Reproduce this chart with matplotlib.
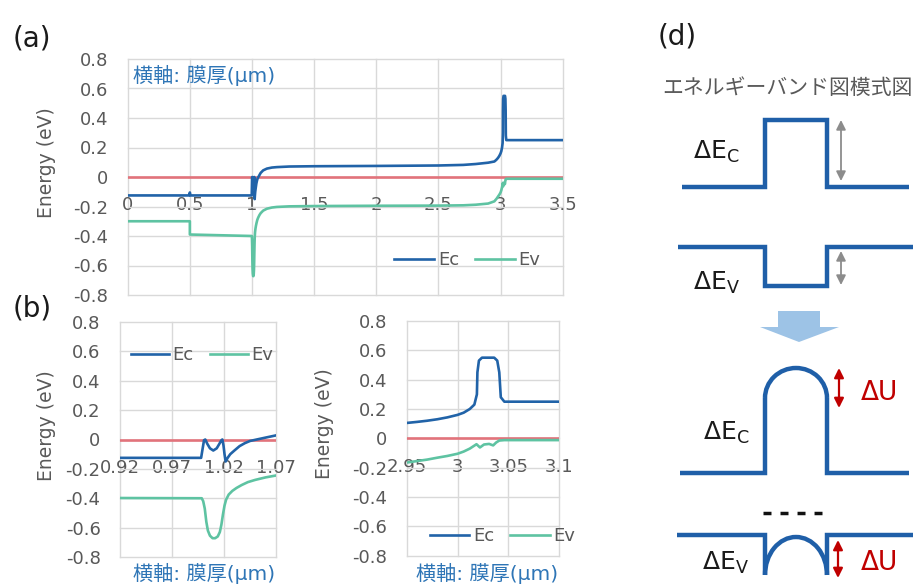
import numpy as np
import matplotlib.pyplot as plt
from matplotlib.patches import Arc, Polygon

plt.rcParams['font.family'] = ['DejaVu Sans', 'Noto Sans CJK JP']
plt.rcParams['axes.unicode_minus'] = False

# band edges vs. film thickness (um), energies in eV
ec_x = [0.00, 0.495, 0.50, 0.505, 0.998, 0.9995, 1.0008, 1.002, 1.004, 1.0065, 1.0097,
        1.013, 1.0155, 1.0175, 1.0184, 1.0195, 1.0205, 1.0216, 1.0235, 1.026, 1.03,
        1.035, 1.04, 1.045, 1.0515, 1.06, 1.07, 1.09, 1.12, 1.16, 1.2, 1.3, 1.5, 2.0,
        2.5, 2.7, 2.8, 2.9, 2.95, 2.96, 2.97, 2.98, 2.99, 3.0, 3.006, 3.012, 3.0165,
        3.019, 3.0195, 3.021, 3.024, 3.036, 3.039, 3.041, 3.0425, 3.046, 3.1, 3.5]
ec_y = [-0.125, -0.125, -0.105, -0.125, -0.125, -0.06, -0.005, 0.0, -0.03, -0.06, -0.075,
        -0.06, -0.03, -0.005, 0.0, -0.04, -0.10, -0.15, -0.125, -0.10, -0.075,
        -0.045, -0.025, -0.01, 0.0, 0.013, 0.028, 0.045, 0.057, 0.064, 0.067, 0.071,
        0.073, 0.075, 0.078, 0.082, 0.088, 0.097, 0.105, 0.112, 0.12, 0.13, 0.143,
        0.16, 0.175, 0.2, 0.23, 0.30, 0.45, 0.53, 0.55, 0.55, 0.53, 0.45, 0.28, 0.25,
        0.25, 0.25]

ev_x = [0.0, 0.5, 0.5, 0.9986, 1.0, 1.0015, 1.003, 1.0045, 1.0065, 1.009, 1.0115,
        1.014, 1.016, 1.0175, 1.019, 1.0205, 1.022, 1.0245, 1.028, 1.032, 1.037,
        1.043, 1.05, 1.06, 1.07, 1.09, 1.12, 1.16, 1.2, 1.3, 1.5, 2.0, 2.5, 2.7, 2.8,
        2.9, 2.95, 2.96, 2.97, 2.98, 2.99, 3.0, 3.006, 3.012, 3.0186, 3.022, 3.026,
        3.031, 3.035, 3.038, 3.041, 3.046, 3.1, 3.5]
ev_y = [-0.30, -0.30, -0.39, -0.40, -0.42, -0.47, -0.56, -0.62, -0.655, -0.672, -0.672,
        -0.66, -0.63, -0.58, -0.51, -0.45, -0.41, -0.375, -0.35, -0.33, -0.31, -0.29,
        -0.275, -0.258, -0.245, -0.228, -0.215, -0.207, -0.203, -0.199, -0.197,
        -0.195, -0.194, -0.192, -0.188, -0.18, -0.165, -0.155, -0.145, -0.132, -0.12,
        -0.105, -0.09, -0.07, -0.04, -0.062, -0.042, -0.038, -0.048, -0.028, -0.015,
        -0.012, -0.012, -0.012]

ef_x = [0.0, 3.5]
ef_y = [0.0, 0.0]

y_ticks = [0.8, 0.6, 0.4, 0.2, 0.0, -0.2, -0.4, -0.6, -0.8]
y_labels = ['0.8', '0.6', '0.4', '0.2', '0', '-0.2', '-0.4', '-0.6', '-0.8']
a_ticks = [0, 0.5, 1, 1.5, 2, 2.5, 3, 3.5]
a_labels = ['0', '0.5', '1', '1.5', '2', '2.5', '3', '3.5']
bl_ticks = [0.92, 0.97, 1.02, 1.07]
bl_labels = ['0.92', '0.97', '1.02', '1.07']
br_ticks = [2.95, 3.0, 3.05, 3.1]
br_labels = ['2.95', '3', '3.05', '3.1']

EC_C = '#2163A8'
EV_C = '#5EC3A2'
EF_C = '#E2737B'
GRID = '#D9D9D9'
GRAY = '#595959'
BLUE_T = '#2E75B6'
BAND = '#1F5FA8'
DARKRED = '#C00000'

W, H = 914, 586
fig = plt.figure(figsize=(W / 100, H / 100), dpi=100)

# schematic layer spanning the whole canvas, in pixel units
ax_d = fig.add_axes([0, 0, 1, 1])
ax_d.set_xlim(0, W)
ax_d.set_ylim(H, 0)
ax_d.axis('off')
ax_d.set_facecolor('none')

band_kw = dict(color=BAND, lw=3.2, solid_joinstyle='miter', solid_capstyle='butt')
cb_top = ([682, 765, 765, 827, 827, 909], [187, 187, 120, 120, 187, 187])
vb_top = ([678, 765, 765, 827, 827, 913], [247, 247, 286, 286, 247, 247])
ax_d.plot(*cb_top, **band_kw)
ax_d.plot(*vb_top, **band_kw)

ax_d.plot([680, 765, 765], [473, 473, 398], **band_kw)
ax_d.plot([827, 827, 909], [398, 473, 473], **band_kw)
ax_d.add_patch(Arc((796, 398), 62, 60, theta1=180, theta2=360, color=BAND, lw=3.2))

ax_d.plot([677, 765, 765], [535, 535, 575], **band_kw)
ax_d.plot([827, 827, 913], [575, 535, 535], **band_kw)
ax_d.add_patch(Arc((796, 575), 62, 76, theta1=180, theta2=360, color=BAND, lw=3.2))

ax_d.plot([763, 822], [513, 513], color='#111111', lw=2.5, linestyle=(0, (2.3, 2.6)))

ax_d.add_patch(Polygon([(778, 311), (820, 311), (820, 327), (839, 327), (799, 342),
                        (760, 327), (778, 327)], closed=True, color='#9DC3E6', lw=0))


def double_arrow(x, y0, y1, color, lw):
    ax_d.annotate('', xy=(x, y0), xytext=(x, y1),
                  arrowprops=dict(arrowstyle='<|-|>', color=color, lw=lw,
                                  mutation_scale=14, shrinkA=0, shrinkB=0))


double_arrow(841, 120, 181, '#8C8C8C', 1.3)
double_arrow(841, 251, 285, '#8C8C8C', 1.3)
double_arrow(839, 368, 408, DARKRED, 1.6)
double_arrow(838, 540, 578, DARKRED, 1.6)

lab_kw = dict(fontsize=18, color='#1a1a1a', ha='left', va='baseline')
ax_d.text(693, 159, r'ΔE$_\mathrm{C}$', **lab_kw)
ax_d.text(693, 290, r'ΔE$_\mathrm{V}$', **lab_kw)
ax_d.text(703, 440, r'ΔE$_\mathrm{C}$', **lab_kw)
ax_d.text(702, 570, r'ΔE$_\mathrm{V}$', **lab_kw)
ax_d.text(861, 400, 'ΔU', fontsize=19, color=DARKRED, ha='left', va='baseline')
ax_d.text(861, 570, 'ΔU', fontsize=19, color=DARKRED, ha='left', va='baseline')
ax_d.text(787, 88, 'エネルギーバンド図模式図', fontsize=15, color=GRAY, ha='center', va='center')

for lab, (px, py) in {'(a)': (32, 38), '(b)': (32, 309), '(d)': (677, 37)}.items():
    fig.text(px / W, 1 - py / H, lab, fontsize=20, color='#1a1a1a', ha='center', va='center')


def px_axes(left, top, right, bottom):
    return fig.add_axes([left / W, 1 - bottom / H, (right - left) / W, (bottom - top) / H])


def band_axes(box, xlim, xticks, xlabels, leg_xy, handlelen):
    ax = px_axes(*box)
    ax.plot(ef_x, ef_y, color=EF_C, lw=1.9, zorder=2)
    h1, = ax.plot(ec_x, ec_y, color=EC_C, lw=1.9, zorder=3, label='Ec')
    h2, = ax.plot(ev_x, ev_y, color=EV_C, lw=1.9, zorder=3, label='Ev')
    ax.set_xlim(*xlim)
    ax.set_ylim(-0.8, 0.8)
    ax.set_xticks(xticks, xlabels)
    ax.set_yticks(y_ticks, y_labels)
    ax.spines['bottom'].set_position(('data', 0))
    for s in ax.spines.values():
        s.set_visible(False)
    ax.grid(True, color=GRID, lw=1)
    ax.set_axisbelow(True)
    for gl in ax.get_xgridlines() + ax.get_ygridlines():
        gl.set_clip_on(False)
    ax.tick_params(length=0, pad=14, labelsize=13, labelcolor=GRAY)
    ax.legend(handles=[h1, h2], ncol=2, loc='center', bbox_to_anchor=leg_xy,
              frameon=False, fontsize=13, labelcolor=GRAY, handlelength=handlelen,
              handletextpad=0.2, columnspacing=0.9, borderaxespad=0, borderpad=0)
    return ax


band_axes((127.7, 59, 562.7, 295), (0, 3.5), a_ticks, a_labels, (0.781, 0.148), 2.2)
band_axes((120, 322, 276, 557), (0.92, 1.07), bl_ticks, bl_labels, (0.526, 0.86), 2.1)
band_axes((406.7, 321, 559.3, 555.7), (2.95, 3.1), br_ticks, br_labels, (0.628, 0.084), 2.2)

for px, py in [(47, 163), (47, 426), (325, 424)]:
    fig.text(px / W, 1 - py / H, 'Energy (eV)', rotation=90, fontsize=13.5,
             color=GRAY, ha='center', va='center')

fig.text(133 / W, 1 - 75 / H, '横軸: 膜厚(μm)', fontsize=14.5, color=BLUE_T,
         ha='left', va='center')
for px in [204, 487.5]:
    fig.text(px / W, 1 - 573 / H, '横軸: 膜厚(μm)', fontsize=14.5, color=BLUE_T,
             ha='center', va='center')

fig.savefig('out.png', dpi=100, facecolor='white')
